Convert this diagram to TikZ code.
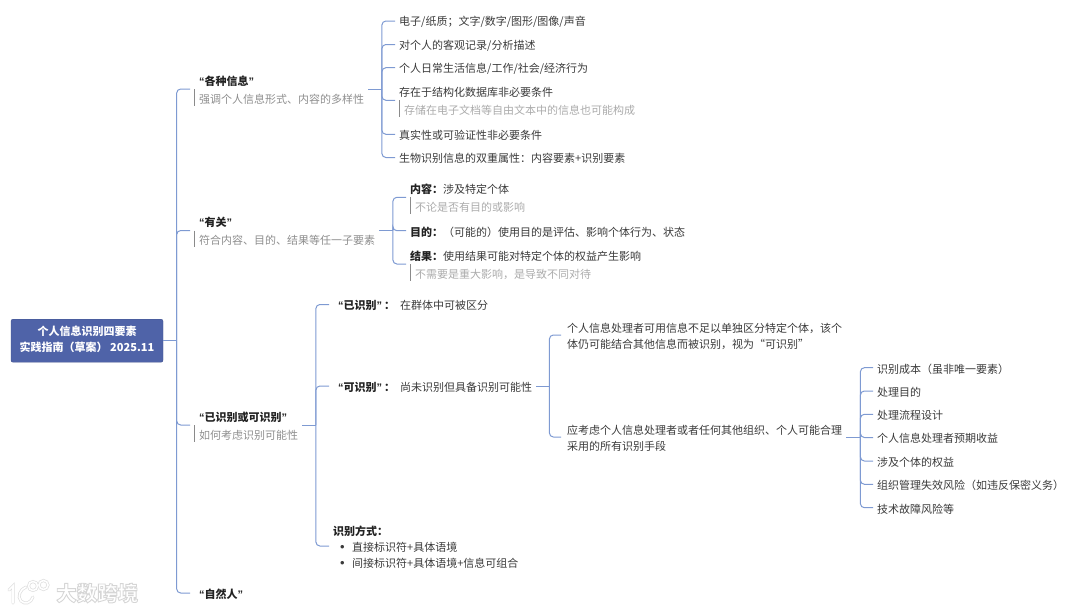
\documentclass[tikz,border=0pt]{standalone}
\usepackage{fontspec}
\setmainfont{Noto Sans CJK SC}
\usetikzlibrary{calc}
\newfontfamily\latinq{Liberation Sans}
\newcommand{\qL}{{\latinq “}}
\newcommand{\qR}{{\latinq ”}}
\definecolor{linkc}{HTML}{7E9AD2}
\definecolor{rootc}{HTML}{4F63A8}
\definecolor{inkc}{HTML}{3A3A3A}
\definecolor{darkc}{HTML}{222222}
\definecolor{subc}{HTML}{8E8E8E}
\definecolor{subd}{HTML}{ABABAB}
\definecolor{barc}{HTML}{8A8A8A}
\definecolor{wmc}{HTML}{DEDEDE}
\newcommand{\ind}{\hspace*{5pt}}
\newcommand{\ttl}[1]{{\bfseries\color{darkc}#1}}
\newcommand{\sbt}[1]{\ind{\color{subc}#1}}
\newcommand{\sbd}[1]{\ind{\color{subd}#1}}
\newcommand{\bitem}[1]{\hspace*{7pt}\makebox[12pt][l]{\latinq\fontsize{13}{16}\selectfont •}#1}
\newcommand{\outl}[1]{\special{pdf:code q 2 Tr 0.9 w 0.84 G 1 g}#1\special{pdf:code Q}}
\tikzset{
  x=1pt,y=-1pt,
  base/.style={anchor=west,yshift=-1.2pt,inner xsep=4pt,inner ysep=1pt,align=left,text=inkc},
  leaf/.style={base,font=\fontsize{11}{16}\selectfont},
  wrapleaf/.style={base,font=\fontsize{11}{15.7}\selectfont},
  topic/.style={base,font=\fontsize{11}{18}\selectfont},
  rootbox/.style={draw=rootc!85!black,line width=.4pt,fill=rootc,rounded corners=2pt,minimum width=152pt,minimum height=43pt,inner sep=0pt,align=center,text=white,font=\fontsize{11}{16}\selectfont\bfseries},
  link/.style={draw=linkc,line width=1pt},
  curve/.style={link,rounded corners=4pt},
  subbar/.style={draw=barc,line width=.7pt},
  wmtext/.style={font=\fontsize{20.5}{22}\selectfont\bfseries,inner sep=0pt},
  wmback/.style={draw=wmc,line width=3pt,line cap=round},
  wmfront/.style={draw=white,line width=1.6pt,line cap=round},
}
\newcommand{\hub}[3]{\coordinate (#1) at ($(#2.east)+(#3,-1.2)$);\draw[link] ($(#2.east)+(0,-1.2)$) -- (#1);}
\newcommand{\kid}[2]{\draw[curve] (#1) |- ($(#2.west)+(0,-1.2)$);}
\newcommand{\sbar}[1]{\draw[subbar] ($(#1.west)+(4.7,-1.2)$) -- ($(#1.west)+(4.7,15.3)$);}
\begin{document}
\begin{tikzpicture}
\useasboundingbox (0,0) rectangle (1080,614);
% root
\node[rootbox] (root) at (87,340.7) {\raisebox{-1.6pt}{\begin{tabular}{@{}c@{}}个人信息识别四要素\\实践指南（草案） 2025.11\end{tabular}}};
% level 1
\node[topic] (t1) at (190,89) {\ind\ttl{\qL 各种信息\qR}\\\sbt{强调个人信息形式、内容的多样性}};
\node[topic] (t2) at (190,230.5) {\ind\ttl{\qL 有关\qR}\\\sbt{符合内容、目的、结果等任一子要素}};
\node[topic] (t3) at (190,425) {\ind\ttl{\qL 已识别或可识别\qR}\\\sbt{如何考虑识别可能性}};
\node[leaf] (t4) at (190,593) {\ind\ttl{\qL 自然人\qR}};
% t1 children
\node[leaf] (a1) at (395,21) {电子/纸质；文字/数字/图形/图像/声音};
\node[leaf] (a2) at (395,44.5) {对个人的客观记录/分析描述};
\node[leaf] (a3) at (395,67.7) {个人日常生活信息/工作/社会/经济行为};
\node[topic] (a4) at (395,100.3) {存在于结构化数据库非必要条件\\\sbd{存储在电子文档等自由文本中的信息也可能构成}};
\node[leaf] (a5) at (395,134.3) {真实性或可验证性非必要条件};
\node[leaf] (a6) at (395,157.5) {生物识别信息的双重属性：内容要素+识别要素};
% t2 children
\node[topic] (b1) at (406,197.3) {\ttl{内容：}涉及特定个体\\\sbd{不论是否有目的或影响}};
\node[leaf] (b2) at (406,230.7) {\ttl{目的：}（可能的）使用目的是评估、影响个体行为、状态};
\node[topic] (b3) at (406,264) {\ttl{结果：}使用结果可能对特定个体的权益产生影响\\\sbd{不需要是重大影响，是导致不同对待}};
% t3 children
\node[leaf] (c1) at (329,304.5) {\ind\ttl{\qL 已识别\qR\hspace{2pt}：}\hspace{5pt}{\color{inkc}在群体中可被区分}};
\node[leaf] (c2) at (329,386) {\ind\ttl{\qL 可识别\qR\hspace{2pt}：}\hspace{5pt}{\color{inkc}尚未识别但具备识别可能性}};
\node[leaf] (c3) at (329,546) {\ttl{识别方式：}\\\bitem{直接标识符+具体语境}\\\bitem{间接标识符+具体语境+信息可组合}};
% c2 children
\node[wrapleaf] (d1) at (561,335) {\hspace*{2pt}个人信息处理者可用信息不足以单独区分特定个体，该个\\\hspace*{2pt}体仍可能结合其他信息而被识别，视为“可识别”};
\node[wrapleaf] (d2) at (561,437) {\hspace*{2pt}应考虑个人信息处理者或者任何其他组织、个人可能合理\\\hspace*{2pt}采用的所有识别手段};
% d2 children
\node[leaf] (e1) at (873,367.7) {识别成本（虽非唯一要素）};
\node[leaf] (e2) at (873,391) {处理目的};
\node[leaf] (e3) at (873,414.3) {处理流程设计};
\node[leaf] (e4) at (873,437.5) {个人信息处理者预期收益};
\node[leaf] (e5) at (873,461) {涉及个体的权益};
\node[leaf] (e6) at (873,484.3) {组织管理失效风险（如违反保密义务）};
\node[leaf] (e7) at (873,507.7) {技术故障风险等};
% connectors
\coordinate (s0) at ($(root.east)+(13.5,0)$);
\draw[link] (root.east) -- (s0);
\foreach \k in {t1,t2,t3,t4}{\kid{s0}{\k}}
\hub{s1}{t1}{13.5}
\foreach \k in {a1,a2,a3,a4,a5,a6}{\kid{s1}{\k}}
\hub{s2}{t2}{13.5}
\foreach \k in {b1,b2,b3}{\kid{s2}{\k}}
\hub{s3}{t3}{13.5}
\foreach \k in {c1,c2,c3}{\kid{s3}{\k}}
\hub{s4}{c2}{13}
\foreach \k in {d1,d2}{\kid{s4}{\k}}
\hub{s5}{d2}{14}
\foreach \k in {e1,e2,e3,e4,e5,e6,e7}{\kid{s5}{\k}}
% sub-text bars
\foreach \k in {t1,t2,t3,a4,b1,b3}{\sbar{\k}}
% watermark
\node[wmtext,anchor=west] (wm) at (56,593) {\outl{大数跨境}};
\foreach \s in {wmback,wmfront}{
  \draw[\s] (9,590) -- (13,586) -- (13,603);
  \draw[\s] (26,587) .. controls (20,589) and (17,597) .. (21,601) .. controls (25,605) and (31,603) .. (33,597);
  \draw[\s] (33,586) circle (4.5);
  \draw[\s] (43.5,585) circle (4.5);
}
\end{tikzpicture}
\end{document}
